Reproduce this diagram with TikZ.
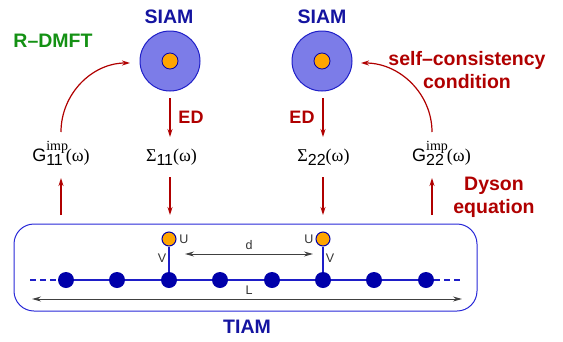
\documentclass[tikz,border=0pt]{standalone}
\usepackage[no-math]{fontspec}
\setmainfont{Liberation Sans}
\newfontfamily\serif{Liberation Serif}
\usetikzlibrary{arrows.meta}
\definecolor{siamfill}{RGB}{124,124,232}
\definecolor{siamedge}{RGB}{30,30,200}
\definecolor{dotblue}{RGB}{0,0,170}
\definecolor{titleblue}{RGB}{20,20,160}
\definecolor{dred}{RGB}{176,0,0}
\definecolor{dgreen}{RGB}{20,145,20}
\definecolor{boxblue}{RGB}{40,40,215}
\definecolor{impor}{RGB}{255,165,0}
\newcommand\mysubsup[2]{\hbox{\rlap{\raisebox{10.5pt}{\serif\fontsize{14}{14}\selectfont #1}}\raisebox{-4.3pt}{\fontsize{16}{16}\selectfont #2}}}
\begin{document}
\begin{tikzpicture}[x=1pt,y=-1pt,
  title/.style={font=\fontsize{19.5}{22}\selectfont\bfseries, text=titleblue},
  rtext/.style={font=\fontsize{19.5}{23}\selectfont\bfseries, text=dred, align=center},
  lab/.style={font=\fontsize{18}{20}\selectfont, anchor=base},
  small/.style={font=\fontsize{12.5}{14}\selectfont, text=black!80},
  redarrow/.style={dred, line width=1.2pt, -{Stealth[length=8pt,width=5pt]}},
  blackarrow/.style={black!75, line width=1pt, {Stealth[length=9pt,width=5pt]}-{Stealth[length=9pt,width=5pt]}},
  siam/.style={circle, fill=siamfill, draw=siamedge, line width=1pt, minimum size=60pt, inner sep=0},
  core/.style={circle, fill=impor, draw=dotblue, line width=0.8pt, minimum size=16pt, inner sep=0},
  site/.style={circle, fill=dotblue, minimum size=16pt, inner sep=0},
  impsite/.style={circle, fill=impor, draw=dotblue, line width=1pt, minimum size=14pt, inner sep=0},
  chain/.style={siamedge, line width=1.3pt}
]
\useasboundingbox (0,0) rectangle (563,341);

% SIAM circles
\node[siam] (siamL) at (170,61) {};
\node[core] (coreL) at (170,61) {};
\node[siam] (siamR) at (322,61) {};
\node[core] (coreR) at (322,61) {};
\node[title] (tL) at (169,17) {SIAM};
\node[title] (tR) at (322,17) {SIAM};
\node[font=\fontsize{19.5}{22}\selectfont\bfseries, text=dgreen] (rdmft) at (53,41) {R–DMFT};
\node[rtext] (scc) at (467,70) {self–consistency\\condition};
\node[rtext] (dyson) at (494,197) {Dyson\\equation};

% labels
\node[lab] (G11) at (61,161) {G\mysubsup{imp}{11}\kern3pt{\serif(ω)}};
\node[lab] (S11) at (171.5,161) {{\serif Σ}\mysubsup{}{11}{\serif(ω)}};
\node[lab] (S22) at (323.5,161) {{\serif Σ}\mysubsup{}{22}{\serif(ω)}};
\node[lab] (G22) at (441.5,161) {G\mysubsup{imp}{22}\kern3pt{\serif(ω)}};

% ED arrows
\coordinate (e1s) at (170,98); \coordinate (e1e) at (170,137);
\coordinate (e2s) at (323,98); \coordinate (e2e) at (323,137);
\draw[redarrow] (e1s) -- (e1e);
\draw[redarrow] (e2s) -- (e2e);
\node[font=\fontsize{18}{20}\selectfont\bfseries, text=dred] (ed1) at (191,117) {ED};
\node[font=\fontsize{18}{20}\selectfont\bfseries, text=dred] (ed2) at (302,117) {ED};

% curved arrows
\coordinate (c1s) at (61,132); \coordinate (c1e) at (130,63);
\coordinate (c2s) at (432,132); \coordinate (c2e) at (361,63);
\draw[redarrow] (c1s) .. controls (61,94) and (92,63) .. (c1e);
\draw[redarrow] (c2s) .. controls (432,94) and (400,63) .. (c2e);

% vertical arrows to/from box
\coordinate (v1b) at (61,215); \coordinate (v1t) at (61,178);
\coordinate (v2t) at (170,177); \coordinate (v2b) at (170,215);
\coordinate (v3t) at (323,177); \coordinate (v3b) at (323,215);
\coordinate (v4b) at (432,215); \coordinate (v4t) at (432,178);
\draw[redarrow] (v1b) -- (v1t);
\draw[redarrow] (v2t) -- (v2b);
\draw[redarrow] (v3t) -- (v3b);
\draw[redarrow] (v4b) -- (v4t);

% TIAM box
\draw[boxblue, line width=1pt, rounded corners=20pt] (14,224) rectangle (477,311);
\node[title] (tiam) at (247,327) {TIAM};

% chain
\coordinate (dl) at (30,280); \coordinate (dr) at (462,280);
\node[site] (s1) at (66,280) {};
\node[site] (s2) at (117,280) {};
\node[site] (s3) at (169,280) {};
\node[site] (s4) at (220,280) {};
\node[site] (s5) at (272,280) {};
\node[site] (s6) at (323,280) {};
\node[site] (s7) at (374,280) {};
\node[site] (s8) at (426,280) {};
\draw[chain, dash pattern=on 6pt off 4pt] (dl) -- (s1);
\draw[chain] (s1) -- (s2) -- (s3) -- (s4) -- (s5) -- (s6) -- (s7) -- (s8);
\draw[chain, dash pattern=on 6pt off 4pt] (s8) -- (dr);
\node[impsite] (i1) at (169,239) {};
\node[impsite] (i2) at (323,239) {};
\draw[chain] (i1) -- (s3);
\draw[chain] (i2) -- (s6);
\node[small] (U1) at (184,239) {U};
\node[small] (V1) at (162,258) {V};
\node[small] (U2) at (309,239) {U};
\node[small] (V2) at (330,258) {V};

% d and L
\coordinate (da) at (185,254); \coordinate (db) at (313,254);
\draw[blackarrow] (da) -- (db);
\node[small] (dlab) at (249,245) {d};
\coordinate (La) at (32,299); \coordinate (Lb) at (462,299);
\draw[blackarrow] (La) -- (Lb);
\node[small] (Llab) at (249,290) {L};
\end{tikzpicture}
\end{document}
